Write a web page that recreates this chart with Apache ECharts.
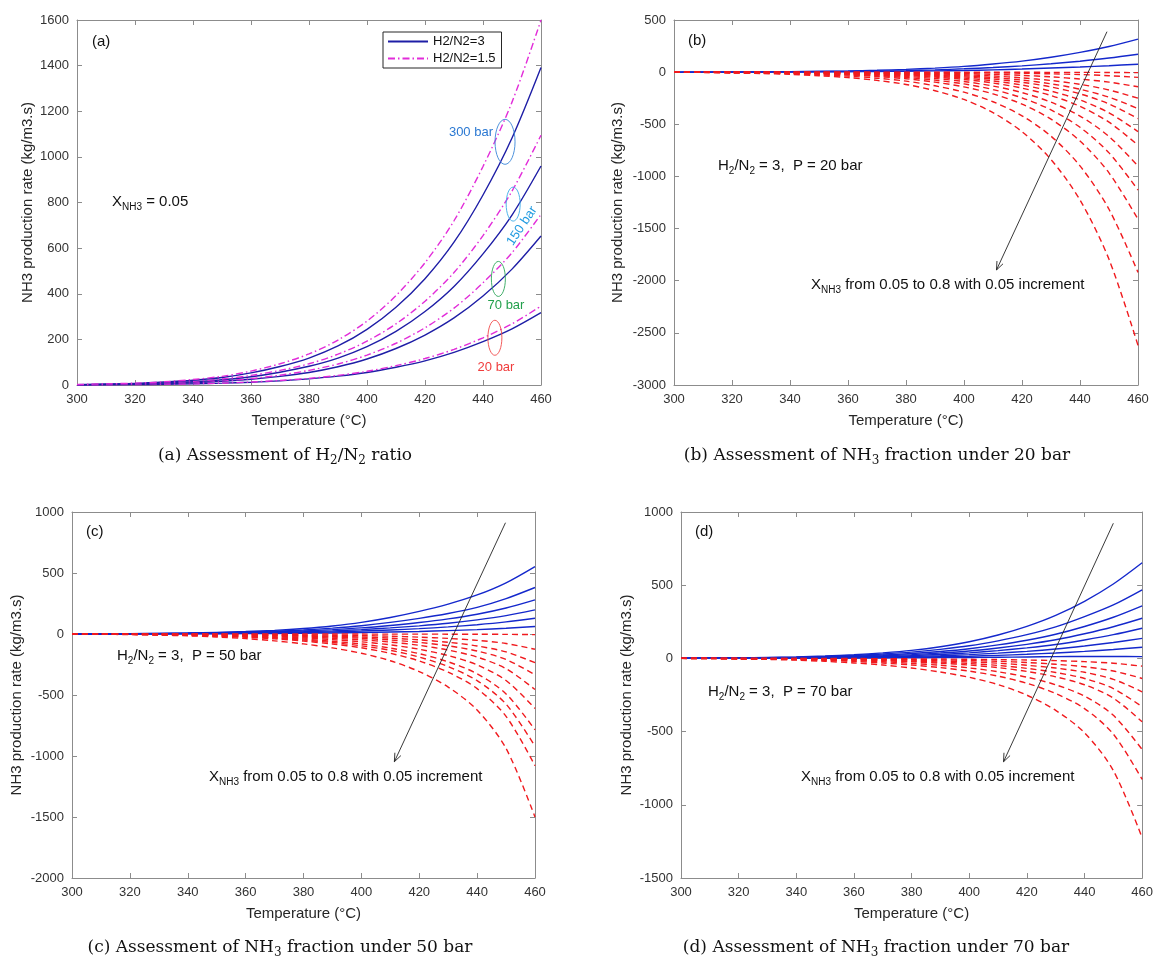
<!DOCTYPE html>
<html>
<head>
<meta charset="utf-8">
<script src="https://cdn.jsdelivr.net/npm/echarts@6/dist/echarts.min.js"></script>
<style>
  html, body { margin: 0; background: #fff; }
  #chart { width: 1156px; height: 965px; }
</style>
</head>
<body>
<div id="chart"></div>
<script>
// temperatures (°C) shared by every curve
const temps = [300, 310, 320, 330, 340, 350, 360, 370, 380, 390, 400, 410, 420, 430, 440, 450, 460];

// (a) X_NH3 = 0.05 ; rows: 20, 70, 150, 300 bar
const ratio3A = [
  [0.5, 1, 2, 3, 5, 8, 12, 18, 27, 39, 55, 78, 106, 143, 190, 246, 317],
  [1, 2, 3, 6, 10, 16, 25, 38, 55, 80, 114, 160, 219, 294, 390, 508, 653],
  [1, 3, 5, 9, 14, 23, 36, 56, 82, 118, 168, 235, 322, 432, 575, 745, 960],
  [1, 4, 7, 13, 21, 33, 53, 81, 118, 171, 244, 341, 466, 626, 833, 1083, 1392]
];
const ratio15A = [
  [0.5, 1, 2, 3, 5, 8, 13, 20, 29, 42, 60, 85, 116, 156, 207, 268, 346],
  [1, 2, 4, 7, 11, 18, 28, 43, 64, 92, 131, 183, 251, 337, 448, 580, 748],
  [1, 3, 5, 10, 16, 26, 42, 64, 93, 135, 192, 268, 367, 493, 655, 850, 1095],
  [2, 5, 8, 14, 24, 38, 61, 93, 136, 197, 280, 392, 536, 720, 958, 1240, 1600]
];

// (b) P = 20 bar, X_NH3 = 0.05 ... 0.80 (positive, then negative rates)
const posB = [
  [0.5, 1, 2, 3, 5, 8, 12, 18, 27, 39, 55, 78, 106, 143, 190, 246, 317],
  [0.3, 0.6, 1, 2, 3, 5, 7, 10, 15, 22, 32, 44, 60, 80, 105, 135, 172],
  [0.2, 0.3, 0.5, 1, 1.5, 2.5, 4, 6, 8, 12, 16, 22, 30, 40, 50, 62, 76]
];
const negB = [
  [0, 0, 0, 0, 0, 0, 0, 0, 0, 0, -0.5, -1, -1, -2, -2, -3, -5],
  [0, 0, 0, 0, 0, -1, -1, -2, -2, -3, -5, -7, -11, -16, -23, -34, -50],
  [0, 0, 0, -1, -1, -2, -3, -4, -6, -10, -14, -21, -31, -45, -66, -96, -140],
  [0, 0, -1, -1, -2, -3, -5, -8, -11, -17, -25, -37, -55, -80, -117, -171, -250],
  [0, 0, -1, -2, -3, -5, -7, -11, -16, -24, -35, -52, -76, -112, -164, -240, -350],
  [0, 0, -1, -2, -4, -6, -9, -13, -20, -30, -45, -66, -97, -142, -208, -305, -445],
  [0, -1, -2, -3, -5, -7, -11, -17, -26, -39, -57, -84, -124, -182, -267, -390, -570],
  [0, -1, -2, -4, -6, -9, -14, -21, -32, -48, -70, -104, -153, -224, -328, -480, -700],
  [0, -1, -3, -5, -7, -12, -18, -27, -41, -61, -90, -133, -196, -288, -421, -617, -900],
  [0, -1, -3, -6, -9, -15, -23, -34, -51, -77, -113, -167, -246, -362, -529, -774, -1130],
  [0, -1, -4, -7, -11, -18, -28, -42, -63, -96, -141, -209, -307, -451, -660, -966, -1410],
  [0, -2, -6, -10, -15, -25, -38, -58, -86, -131, -192, -284, -419, -614, -899, -1315, -1920],
  [0, -3, -8, -13, -21, -34, -52, -79, -118, -178, -262, -388, -571, -838, -1226, -1795, -2620]
];

// (c) P = 50 bar
const posC = [
  [1, 2, 3, 5, 8, 13, 20, 30, 45, 66, 95, 135, 185, 245, 320, 420, 553],
  [0.5, 1, 2, 4, 6, 10, 15, 22, 33, 48, 68, 95, 128, 168, 218, 290, 381],
  [0.5, 1, 2, 3, 5, 8, 12, 18, 25, 36, 50, 70, 94, 124, 162, 213, 280],
  [0.3, 0.6, 1, 2, 4, 6, 9, 13, 18, 26, 36, 50, 67, 88, 116, 151, 198],
  [0.2, 0.5, 1, 2, 3, 4, 6, 9, 12, 17, 24, 33, 44, 58, 76, 99, 129],
  [0.1, 0.2, 0.5, 1, 1, 2, 3, 4, 6, 8, 12, 16, 21, 28, 36, 47, 61]
];
const negC = [
  [0, 0, 0, 0, 0, 0, 0, 0, 0, 0, -0.5, -1, -1, -1.5, -2, -3, -5],
  [0, 0, 0, -1, -1, -2, -3, -5, -7, -10, -13, -18, -26, -36, -52, -78, -125],
  [0, 0, -1, -1, -2, -4, -6, -9, -13, -18, -25, -34, -48, -68, -98, -147, -235],
  [0, 0, -1, -2, -3, -5, -8, -12, -18, -25, -35, -49, -69, -97, -139, -209, -335],
  [0, 0, -1, -3, -5, -7, -11, -17, -25, -35, -48, -66, -93, -132, -189, -284, -455],
  [0, -1, -2, -4, -6, -10, -15, -23, -33, -46, -64, -89, -125, -177, -253, -381, -610],
  [0, -1, -2, -5, -8, -13, -20, -29, -42, -60, -82, -115, -161, -228, -326, -491, -785],
  [0, -1, -3, -6, -9, -15, -23, -34, -50, -70, -97, -134, -189, -267, -382, -575, -920],
  [0, -1, -3, -6, -11, -17, -27, -40, -58, -82, -113, -158, -221, -313, -448, -675, -1080],
  [0, -2, -5, -9, -15, -24, -38, -56, -81, -114, -158, -219, -308, -435, -623, -938, -1500]
];

// (d) P = 70 bar
const posD = [
  [1, 2, 3, 6, 10, 16, 25, 38, 55, 80, 114, 160, 219, 294, 390, 508, 653],
  [1, 2, 3, 5, 8, 13, 20, 30, 43, 62, 86, 120, 162, 215, 285, 365, 468],
  [0.5, 1, 2, 4, 6, 10, 15, 23, 33, 47, 66, 92, 124, 165, 218, 281, 359],
  [0.5, 1, 2, 3, 5, 8, 12, 18, 26, 37, 51, 71, 96, 127, 168, 216, 274],
  [0.3, 0.6, 1, 2, 4, 6, 9, 13, 19, 27, 38, 53, 72, 95, 126, 162, 206],
  [0.2, 0.5, 1, 2, 3, 4, 6, 9, 13, 18, 26, 36, 48, 64, 85, 109, 137],
  [0.1, 0.2, 0.5, 1, 1.5, 2.5, 4, 6, 8, 11, 15, 21, 28, 37, 48, 61, 76],
  [0.1, 0.2, 0.3, 0.5, 1, 1.5, 2, 3, 4, 5, 6, 8, 10, 12, 13, 13, 12]
];
const negD = [
  [0, 0, 0, 0, -1, -1, -1, -2, -3, -4, -6, -8, -11, -15, -22, -33, -53],
  [0, 0, 0, -1, -1, -2, -3, -5, -7, -10, -14, -20, -28, -40, -57, -86, -137],
  [0, 0, -1, -1, -2, -4, -6, -8, -12, -17, -24, -33, -47, -66, -95, -143, -228],
  [0, 0, -1, -2, -3, -5, -8, -12, -18, -25, -35, -48, -68, -96, -137, -206, -330],
  [0, 0, -1, -3, -4, -7, -11, -16, -23, -33, -45, -63, -89, -126, -180, -271, -433],
  [0, -1, -2, -4, -6, -10, -16, -23, -34, -47, -65, -91, -128, -180, -258, -389, -622],
  [0, -1, -2, -5, -8, -13, -21, -31, -45, -63, -87, -121, -170, -240, -343, -517, -827],
  [0, -1, -4, -7, -12, -20, -31, -45, -66, -93, -129, -179, -251, -355, -508, -766, -1225]
];

// y axis ranges per panel: [min, max, interval]
const yRanges = [[0, 1600, 200], [-3000, 500, 500], [-2000, 1000, 500], [-1500, 1000, 500]];

const sans = 'Liberation Sans, Arial, Helvetica, sans-serif';
const serif = 'DejaVu Serif, serif';
const gray = '#8c8c8c';
const navy = '#1e1ea6';
const magenta = '#e22cd9';
const blue = '#1428cc';
const red = '#f01a1e';

const grids = [
  { left: 77, top: 20, width: 464, height: 365 },
  { left: 674, top: 20, width: 464, height: 365 },
  { left: 72, top: 512, width: 463, height: 366 },
  { left: 681, top: 512, width: 462, height: 366 }
];
const yNameGaps = [42, 49, 48, 47];

const xAxes = [];
const yAxes = [];
grids.forEach((g, i) => {
  const tick = { inside: true, length: 5, lineStyle: { color: gray } };
  const line = { onZero: false, lineStyle: { color: gray, width: 1 } };
  const label = { fontSize: 13, color: '#333', fontFamily: sans, margin: 8, formatter: v => String(v) };
  const nameStyle = { fontSize: 15, color: '#262626', fontFamily: sans };
  xAxes.push({
    gridIndex: i, type: 'value', position: 'bottom', min: 300, max: 460, interval: 20,
    axisLine: line, axisTick: tick, splitLine: { show: false }, axisLabel: label,
    name: 'Temperature (°C)', nameLocation: 'middle', nameGap: 28, nameTextStyle: nameStyle
  });
  xAxes.push({
    gridIndex: i, type: 'value', position: 'top', min: 300, max: 460, interval: 20,
    axisLine: line, axisTick: tick, splitLine: { show: false }, axisLabel: { show: false }
  });
  const [mn, mx, iv] = yRanges[i];
  yAxes.push({
    gridIndex: i, type: 'value', position: 'left', min: mn, max: mx, interval: iv,
    axisLine: line, axisTick: tick, splitLine: { show: false }, axisLabel: label,
    name: 'NH3 production rate (kg/m3.s)', nameLocation: 'middle', nameGap: yNameGaps[i],
    nameTextStyle: nameStyle
  });
  yAxes.push({
    gridIndex: i, type: 'value', position: 'right', min: mn, max: mx, interval: iv,
    axisLine: line, axisTick: tick, splitLine: { show: false }, axisLabel: { show: false }
  });
});

function curve(g, name, vals, color, type) {
  return {
    type: 'line', name, xAxisIndex: 2 * g, yAxisIndex: 2 * g,
    data: temps.map((t, k) => [t, vals[k]]),
    symbol: 'none', showSymbol: false, smooth: 0.3,
    silent: true, lineStyle: { color, width: 1.4, type }, itemStyle: { color }
  };
}

const dashDot = [7, 3, 1.5, 3];
const dashed = [6, 4];
const series = [];
ratio3A.forEach((v, k) => {
  series.push(curve(0, 'H2/N2=3', v, navy, 'solid'));
  series.push(curve(0, 'H2/N2=1.5', ratio15A[k], magenta, dashDot));
});
const firstIdx = [0];
firstIdx.push(series.length);
posB.forEach(v => series.push(curve(1, 'b', v, blue, 'solid')));
negB.forEach(v => series.push(curve(1, 'b', v, red, dashed)));
firstIdx.push(series.length);
posC.forEach(v => series.push(curve(2, 'c', v, blue, 'solid')));
negC.forEach(v => series.push(curve(2, 'c', v, red, dashed)));
firstIdx.push(series.length);
posD.forEach(v => series.push(curve(3, 'd', v, blue, 'solid')));
negD.forEach(v => series.push(curve(3, 'd', v, red, dashed)));

const chart = echarts.init(document.getElementById('chart'));
chart.setOption({
  animation: false,
  backgroundColor: '#fff',
  grid: grids,
  xAxis: xAxes,
  yAxis: yAxes,
  legend: {
    data: ['H2/N2=3', 'H2/N2=1.5'],
    left: 383, top: 32, orient: 'vertical',
    itemWidth: 40, itemHeight: 14, itemGap: 4, padding: [3, 6, 3, 4],
    borderColor: '#262626', borderWidth: 1, backgroundColor: '#fff',
    selectedMode: false,
    itemStyle: { opacity: 0 },
    textStyle: { fontSize: 13, color: '#111', fontFamily: sans }
  },
  series
});

const px = (g, p) => chart.convertToPixel({ seriesIndex: firstIdx[g] }, p);

function rich(x, y, text, size) {
  return {
    type: 'text', x, y, z: 10,
    style: {
      text, fill: '#111', align: 'left', verticalAlign: 'middle',
      rich: {
        n: { fontSize: size, fontFamily: sans, lineHeight: size + 5, fill: '#111' },
        s: { fontSize: Math.round(size * 0.68), fontFamily: sans, lineHeight: 10, verticalAlign: 'bottom', fill: '#111' }
      }
    }
  };
}
function caption(x, y, text) {
  return {
    type: 'text', x, y, z: 10,
    style: {
      text, fill: '#111', align: 'center', verticalAlign: 'middle',
      rich: {
        n: { fontSize: 17, fontFamily: serif, lineHeight: 22, fill: '#111' },
        s: { fontSize: 12, fontFamily: serif, lineHeight: 12, verticalAlign: 'bottom', fill: '#111' }
      }
    }
  };
}
function arrow(g, top, bottom) {
  const a = px(g, top), b = px(g, bottom);
  const dx = a[0] - b[0], dy = a[1] - b[1], L = Math.hypot(dx, dy);
  const ux = dx / L, uy = dy / L, h = 9, ang = 0.38;
  const rot = s => [b[0] + h * (ux * Math.cos(s) - uy * Math.sin(s)), b[1] + h * (ux * Math.sin(s) + uy * Math.cos(s))];
  return [
    { type: 'line', z: 10, shape: { x1: a[0], y1: a[1], x2: b[0], y2: b[1] }, style: { stroke: '#222', lineWidth: 0.9 } },
    { type: 'polyline', z: 10, shape: { points: [rot(ang), b, rot(-ang)] }, style: { stroke: '#222', lineWidth: 0.9, fill: null } }
  ];
}
function ring(p, rx, ry, color) {
  const c = px(0, p);
  return { type: 'ellipse', z: 10, shape: { cx: c[0], cy: c[1], rx, ry }, style: { stroke: color, fill: null, lineWidth: 0.9 } };
}
function tag(x, y, text, color, rotation, align) {
  return {
    type: 'text', x, y, rotation: rotation || 0, z: 10,
    style: { text, fill: color, fontSize: 13, fontFamily: sans, align: align || 'center', verticalAlign: 'middle' }
  };
}

const xLabel = '{n|X}{s|NH3}{n| from 0.05 to 0.8 with 0.05 increment}';
const elements = [
  rich(92, 42, '{n|(a)}', 15),
  rich(112, 202, '{n|X}{s|NH3}{n| = 0.05}', 15),
  ring([447.6, 1066], 10, 22.5, '#3a86d8'),
  ring([450.4, 793], 7, 17, '#3aaae8'),
  ring([445.3, 465], 7, 17.5, '#2ea55a'),
  ring([444.1, 207], 7, 17.5, '#f04a4a'),
  tag(493, 132, '300 bar', '#2a78d2', 0, 'right'),
  tag(522, 226, '150 bar', '#1f9ae0', 0.98),
  tag(506, 305, '70 bar', '#23a04c'),
  tag(496, 367, '20 bar', '#f03c3c'),

  rich(688, 41, '{n|(b)}', 15),
  rich(718, 166, '{n|H}{s|2}{n|/N}{s|2}{n| = 3,  P = 20 bar}', 15),
  rich(811, 285, xLabel, 15),
  ...arrow(1, [449.3, 388], [411.2, -1897]),

  rich(86, 532, '{n|(c)}', 15),
  rich(117, 656, '{n|H}{s|2}{n|/N}{s|2}{n| = 3,  P = 50 bar}', 15),
  rich(209, 777, xLabel, 15),
  ...arrow(2, [449.8, 912], [411.4, -1047]),

  rich(695, 532, '{n|(d)}', 15),
  rich(708, 692, '{n|H}{s|2}{n|/N}{s|2}{n| = 3,  P = 70 bar}', 15),
  rich(801, 777, xLabel, 15),
  ...arrow(3, [450, 923], [411.9, -706]),

  caption(285, 456, '{n|(a) Assessment of H}{s|2}{n|/N}{s|2}{n| ratio}'),
  caption(877, 456, '{n|(b) Assessment of NH}{s|3}{n| fraction under 20 bar}'),
  caption(280, 948, '{n|(c) Assessment of NH}{s|3}{n| fraction under 50 bar}'),
  caption(876, 948, '{n|(d) Assessment of NH}{s|3}{n| fraction under 70 bar}')
];
chart.setOption({ graphic: { elements } });

window.addEventListener('resize', () => chart.resize());
</script>
</body>
</html>
